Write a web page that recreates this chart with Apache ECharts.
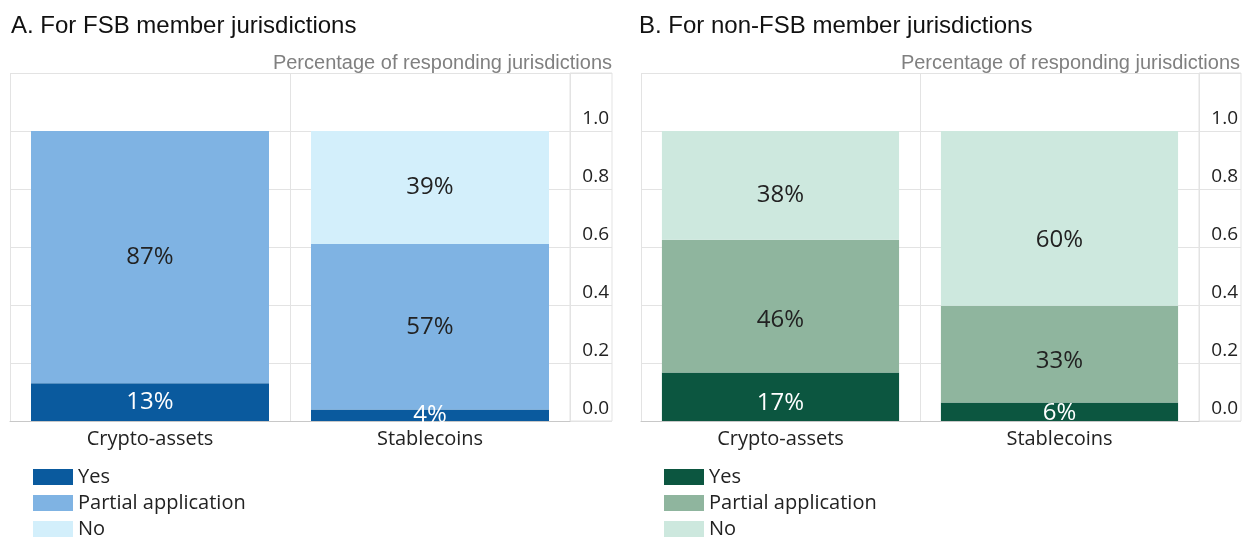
<!DOCTYPE html>
<html>
<head>
    <meta charset="utf-8">
    <title>ECharts</title>
    <script src="https://cdn.jsdelivr.net/npm/echarts@6/dist/echarts.min.js"></script>
</head>
<style>
    html, body {
        margin: 0;
        background: #fff;
    }
    .echart {
        position: absolute;
        top: 0;
        height: 538px;
    }
</style>
<body>
    <div id="panelA" class="echart" style="left:0;width:622px;"></div>
    <div id="panelB" class="echart" style="left:631px;width:613px;"></div>
    <script type="text/javascript">
        var categories = ['Crypto-assets', 'Stablecoins'];
        var seriesNames = ['Yes', 'Partial application', 'No'];
        var yTicks = [0, 0.2, 0.4, 0.6, 0.8, 1.0];

        // panel A: FSB member jurisdictions
        var fsbYes = [0.13, 0.04];
        var fsbPartial = [0.87, 0.57];
        var fsbNo = [0, 0.39];

        // panel B: non-FSB member jurisdictions
        var nonYes = [0.167, 0.064];
        var nonPartial = [0.458, 0.333];
        var nonNo = [0.375, 0.603];

        var FONT = '"Open Sans", "Noto Sans", sans-serif';
        var GRID_LINE = '#e3e3e3';

        // panel B labels sit a bit below the middle of their segments in the original
        var shiftB = [[6, 1], [14, 7], [10, 22]];

        function panelOption(title, values, colors, plotWidth, labelWidth, shift) {
            var series = [];
            for (var i = 0; i < seriesNames.length; i++) {
                var items = [];
                for (var j = 0; j < values[i].length; j++) {
                    var dy = shift ? shift[i][j] : 0;
                    items.push({ value: values[i][j], label: { offset: [0, dy] } });
                }
                series.push({
                    name: seriesNames[i],
                    type: 'bar',
                    stack: 'total',
                    barWidth: '85%',
                    data: items,
                    itemStyle: { color: colors[i] },
                    label: {
                        show: true,
                        position: 'inside',
                        fontFamily: FONT,
                        fontSize: 24,
                        color: i == 0 ? '#ffffff' : '#222222',
                        formatter: function (p) {
                            return p.value > 0 ? Math.round(p.value * 100) + '%' : '';
                        }
                    }
                });
            }
            var option = {
                animation: false,
                title: [{
                    text: title,
                    left: 11,
                    top: 14,
                    padding: 0,
                    textStyle: { fontFamily: 'Liberation Sans, Arial', fontSize: 24, fontWeight: 'normal', color: '#111' }
                }, {
                    text: 'Percentage of responding jurisdictions',
                    right: 10,
                    top: 53,
                    padding: 0,
                    textStyle: { fontFamily: 'Liberation Sans, Arial', fontSize: 20, fontWeight: 'normal', color: '#808080' }
                }],
                legend: {
                    orient: 'vertical',
                    left: 33,
                    top: 467,
                    height: 100,
                    padding: 0,
                    itemWidth: 40,
                    itemHeight: 16,
                    itemGap: 6,
                    icon: 'rect',
                    data: seriesNames,
                    textStyle: { fontFamily: FONT, fontSize: 20, lineHeight: 16, color: '#222' }
                },
                grid: [
                    { left: 10, top: 73, width: plotWidth, height: 348 },
                    { left: 10 + plotWidth, top: 73, width: labelWidth, height: 348,
                      show: true, borderColor: GRID_LINE, borderWidth: 1 }
                ],
                xAxis: [{
                    type: 'category',
                    gridIndex: 0,
                    data: categories,
                    axisLine: { lineStyle: { color: '#c8c8c8' } },
                    axisTick: { inside: true, length: 8, lineStyle: { color: '#333' } },
                    splitLine: { show: true, lineStyle: { color: GRID_LINE } },
                    axisLabel: { fontFamily: FONT, fontSize: 20, color: '#222', margin: 8 }
                }, {
                    type: 'value',
                    gridIndex: 1,
                    show: false
                }],
                yAxis: [{
                    type: 'value',
                    gridIndex: 0,
                    position: 'right',
                    min: 0,
                    max: 1.2,
                    interval: 0.2,
                    axisLine: { show: false },
                    axisTick: { show: false },
                    splitLine: { lineStyle: { color: GRID_LINE } },
                    axisLabel: {
                        margin: labelWidth - 3,
                        align: 'right',
                        verticalAlign: 'bottom',
                        padding: [0, 0, 3, 0],
                        fontFamily: FONT,
                        fontSize: 19,
                        color: '#222',
                        formatter: function (v) {
                            for (var k = 0; k < yTicks.length; k++) {
                                if (Math.abs(yTicks[k] - v) < 1e-6) return yTicks[k].toFixed(1);
                            }
                            return '';
                        }
                    }
                }, {
                    type: 'value',
                    gridIndex: 1,
                    min: 0,
                    max: 1.2,
                    interval: 0.2,
                    axisLine: { show: false },
                    axisTick: { show: false },
                    axisLabel: { show: false },
                    splitLine: { lineStyle: { color: GRID_LINE } }
                }],
                series: series
            };
            return option;
        }

        var chartA = echarts.init(document.getElementById('panelA'));
        chartA.setOption(panelOption('A. For FSB member jurisdictions',
            [fsbYes, fsbPartial, fsbNo],
            ['#0a5a9e', '#7fb3e3', '#d3effb'], 560, 42, null));

        var chartB = echarts.init(document.getElementById('panelB'));
        var optB = panelOption('B. For non-FSB member jurisdictions',
            [nonYes, nonPartial, nonNo],
            ['#0c5640', '#8fb59e', '#cde8de'], 558, 42, shiftB);
        optB.title[0].left = 8;
        optB.title[1].right = 4;
        chartB.setOption(optB);
    </script>
</body>
</html>
